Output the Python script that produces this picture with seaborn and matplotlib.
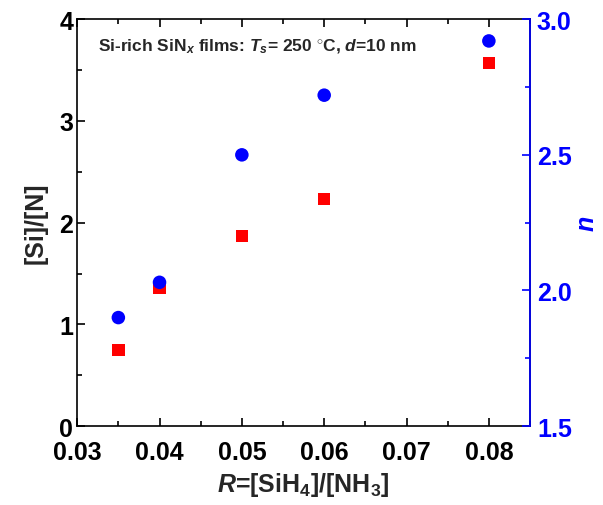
import matplotlib
matplotlib.use("Agg")
import matplotlib.pyplot as plt
import seaborn as sns
import pandas as pd
from matplotlib.ticker import MultipleLocator

sns.set_theme(style="ticks")
plt.rcParams['font.family'] = ['Liberation Sans', 'DejaVu Sans']
plt.rcParams['font.weight'] = 'bold'
plt.rcParams['mathtext.fontset'] = 'custom'
plt.rcParams['mathtext.rm'] = 'Liberation Sans:bold'
plt.rcParams['mathtext.it'] = 'Liberation Sans:bold:italic'
plt.rcParams['mathtext.bf'] = 'Liberation Sans:bold'

R = [0.035, 0.04, 0.05, 0.06, 0.08]
si_n = [0.75, 1.36, 1.87, 2.23, 3.57]
n_idx = [1.90, 2.03, 2.50, 2.72, 2.92]

df = pd.DataFrame({"R": R, "SiN": si_n, "n": n_idx})

fig = plt.figure(figsize=(6.03, 5.06), dpi=100)
ax = fig.add_axes([0.128, 0.156, 0.751, 0.804])
ax2 = ax.twinx()

sns.scatterplot(data=df, x="R", y="SiN", ax=ax, marker="s", color="#ff0000",
                s=80, edgecolor="none", zorder=3)
sns.scatterplot(data=df, x="R", y="n", ax=ax2, marker="o", color="#0000ff",
                s=95, edgecolor="none", zorder=3)

ax.set_xlim(0.03, 0.085)
ax.set_ylim(0, 4)
ax2.set_ylim(1.5, 3.0)

ax.xaxis.set_minor_locator(MultipleLocator(0.005))
ax.yaxis.set_major_locator(MultipleLocator(1))
ax.yaxis.set_minor_locator(MultipleLocator(0.5))
ax2.yaxis.set_minor_locator(MultipleLocator(0.25))

ax.set_xticks([0.03, 0.04, 0.05, 0.06, 0.07, 0.08])
ax.set_xticklabels(["0.03", "0.04", "0.05", "0.06", "0.07", "0.08"])
ax2.set_yticks([1.5, 2.0, 2.5, 3.0])
ax2.set_yticklabels(["1.5", "2.0", "2.5", "3.0"])

ax.tick_params(axis='both', which='both', direction='in', top=True, labelsize=18,
               width=1.2, colors='black')
ax.tick_params(axis='both', which='major', length=6)
ax.tick_params(axis='both', which='minor', length=3.5)
ax.tick_params(axis='x', which='major', pad=10)
ax.tick_params(axis='y', which='major', pad=3)
ax.tick_params(axis='y', which='both', right=False)
ax2.tick_params(axis='y', which='both', direction='in', labelsize=18,
                colors='#0000ff', width=1.2)
ax2.tick_params(axis='y', which='major', length=6, pad=5)
ax2.tick_params(axis='y', which='minor', length=3.5)

for sp in ax.spines.values():
    sp.set_linewidth(1.2)
    sp.set_color('black')
for sp in ax2.spines.values():
    sp.set_linewidth(1.2)
ax2.spines['right'].set_color('#0000ff')
ax2.spines['left'].set_visible(False)
ax2.spines['top'].set_visible(False)
ax2.spines['bottom'].set_visible(False)

for lab in ax.get_xticklabels() + ax.get_yticklabels():
    lab.set_fontweight('bold')
for lab in ax2.get_yticklabels():
    lab.set_fontweight('bold')
    lab.set_color('#0000ff')

ax.set_xlabel(r"$\mathit{R}$=[SiH$_4$]/[NH$_3$]", fontsize=18, fontweight='bold', labelpad=4)
ax.set_ylabel("[Si]/[N]", fontsize=18, fontweight='bold', labelpad=8)
ax2.set_ylabel(r"$\mathit{n}$", fontsize=18, color='#0000ff')
ax2.yaxis.set_label_coords(1.10, 0.5)

ax.text(0.045, 0.935, r"Si-rich SiN$_x$ films: $\mathit{T}_s$= 250 $^{\circ}$C, $\mathit{d}$=10 nm",
        transform=ax.transAxes, fontsize=12.5, fontweight='bold', ha='left', va='center')

fig.savefig("out.png", dpi=100)
